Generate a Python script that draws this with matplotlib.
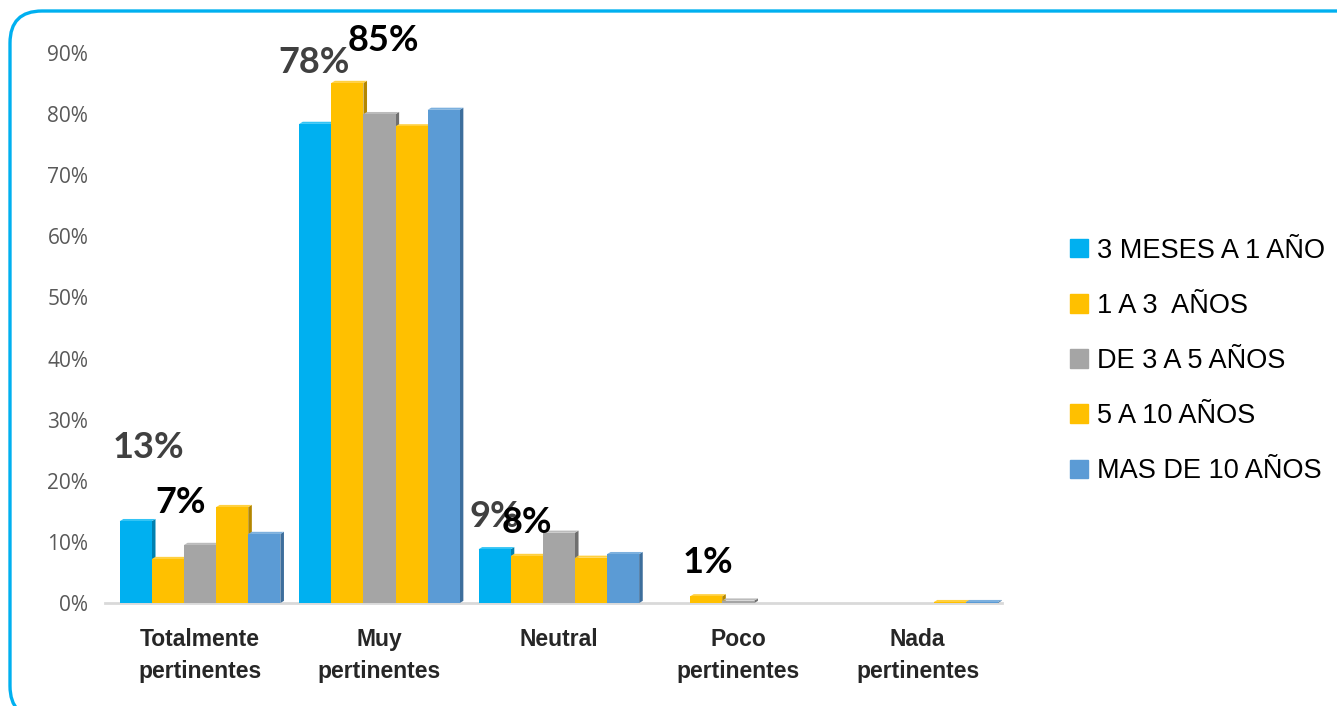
import matplotlib
matplotlib.use("Agg")
import matplotlib.pyplot as plt
from matplotlib.patches import Polygon, FancyBboxPatch, Patch
import numpy as np

# datos (porcentajes)
categorias = ["Totalmente\npertinentes", "Muy\npertinentes", "Neutral",
              "Poco\npertinentes", "Nada\npertinentes"]
series = ["3 MESES A 1 AÑO", "1 A 3  AÑOS", "DE 3 A 5 AÑOS",
          "5 A 10 AÑOS", "MAS DE 10 AÑOS"]
meses_3_1 = [13.4, 78.4, 8.8, 0.0, 0.0]
anios_1_3 = [7.2, 85.1, 7.7, 1.1, 0.0]
anios_3_5 = [9.5, 80.0, 11.5, 0.4, 0.0]
anios_5_10 = [15.7, 78.0, 7.4, 0.0, 0.15]
mas_10 = [11.3, 80.7, 8.0, 0.0, 0.15]
valores = [meses_3_1, anios_1_3, anios_3_5, anios_5_10, mas_10]

# etiquetas que muestra el grafico: (serie, categoria)
etiquetas = [(0, 0), (1, 0), (0, 1), (1, 1), (0, 2), (1, 2), (1, 3)]

colores = ["#00B0F0", "#FFC000", "#A5A5A5", "#FFC000", "#5B9BD5"]
sombras = ["#0080B0", "#B38600", "#6F6F6F", "#B38600", "#3D6E9C"]
techos = ["#33C4F5", "#FFD040", "#BBBBBB", "#FFD040", "#7CB0DE"]

W, H = 1337, 706
fig = plt.figure(figsize=(W / 100, H / 100), dpi=100)
ax = fig.add_axes([105 / W, (H - 603) / H, 897 / W, 550 / H])

x = np.arange(len(categorias))
ancho = 0.179
d, e = 0.02, 0.35  # profundidad del efecto 3D

for i, vals in enumerate(valores):
    xs = x + (i - 2) * ancho
    ax.bar(xs, vals, ancho, color=colores[i], zorder=3 + 2 * i)
    for xc, h in zip(xs, vals):
        if h <= 0:
            continue
        xl, xr = xc - ancho / 2, xc + ancho / 2
        lado = Polygon([(xr, 0), (xr + d, e), (xr + d, h + e), (xr, h)],
                       closed=True, color=sombras[i], lw=0, zorder=2 + 2 * i)
        techo = Polygon([(xl, h), (xl + d, h + e), (xr + d, h + e), (xr, h)],
                        closed=True, color=techos[i], lw=0, zorder=2 + 2 * i)
        ax.add_patch(lado)
        ax.add_patch(techo)

# posicion de las etiquetas de datos (desplazamiento respecto a la barra)
desplaz = {(0, 0): (0.068, 12.1), (1, 0): (0.07, 9.2),
           (0, 1): (-0.006, 10.0), (1, 1): (0.20, 7.0),
           (0, 2): (0.0, 5.3), (1, 2): (0.0, 5.4),
           (1, 3): (0.01, 5.6)}
for s, c in etiquetas:
    v = valores[s][c]
    dx, dy = desplaz[(s, c)]
    ax.text(x[c] + (s - 2) * ancho + dx, v + dy, f"{round(v):.0f}%",
            ha="center", va="center", fontsize=26, fontweight="bold",
            family="Lato", color="#404040" if s == 0 else "black",
            zorder=20 + s, clip_on=False)

ax.set_xlim(-0.53, 4.47)
ax.set_ylim(0, 90)
ax.set_yticks(np.arange(0, 91, 10))
ax.set_yticklabels([f"{t}%" for t in range(0, 91, 10)])
ax.tick_params(axis="y", length=0, labelsize=15, labelcolor="#595959", pad=12)
ax.tick_params(axis="x", length=0, pad=18)
ax.set_xticks(x)
ax.set_xticklabels(categorias, fontsize=16.5, fontweight="bold",
                   family="Liberation Sans", color="#262626", linespacing=1.5,
                   va="top")
for lab in ax.get_yticklabels():
    lab.set_family("Open Sans")
for sp in ["top", "right", "left"]:
    ax.spines[sp].set_visible(False)
ax.spines["bottom"].set_color("#D9D9D9")
ax.spines["bottom"].set_linewidth(2)

handles = [Patch(color=c) for c in colores]
fig.legend(handles, series, loc="center left", bbox_to_anchor=(1070 / W, (H - 361) / H),
           frameon=False, prop={"family": "Liberation Sans", "size": 19.5},
           handlelength=0.68, handleheight=0.68, handletextpad=0.3,
           labelspacing=1.08, borderaxespad=0, borderpad=0)

borde = FancyBboxPatch((10, -12), 1400, H - 11 + 12,
                       boxstyle="round,pad=0,rounding_size=32",
                       transform=None, fill=False, ec="#00B0F0", lw=2.4)
fig.patches.append(borde)

fig.savefig("out.png", dpi=100)
